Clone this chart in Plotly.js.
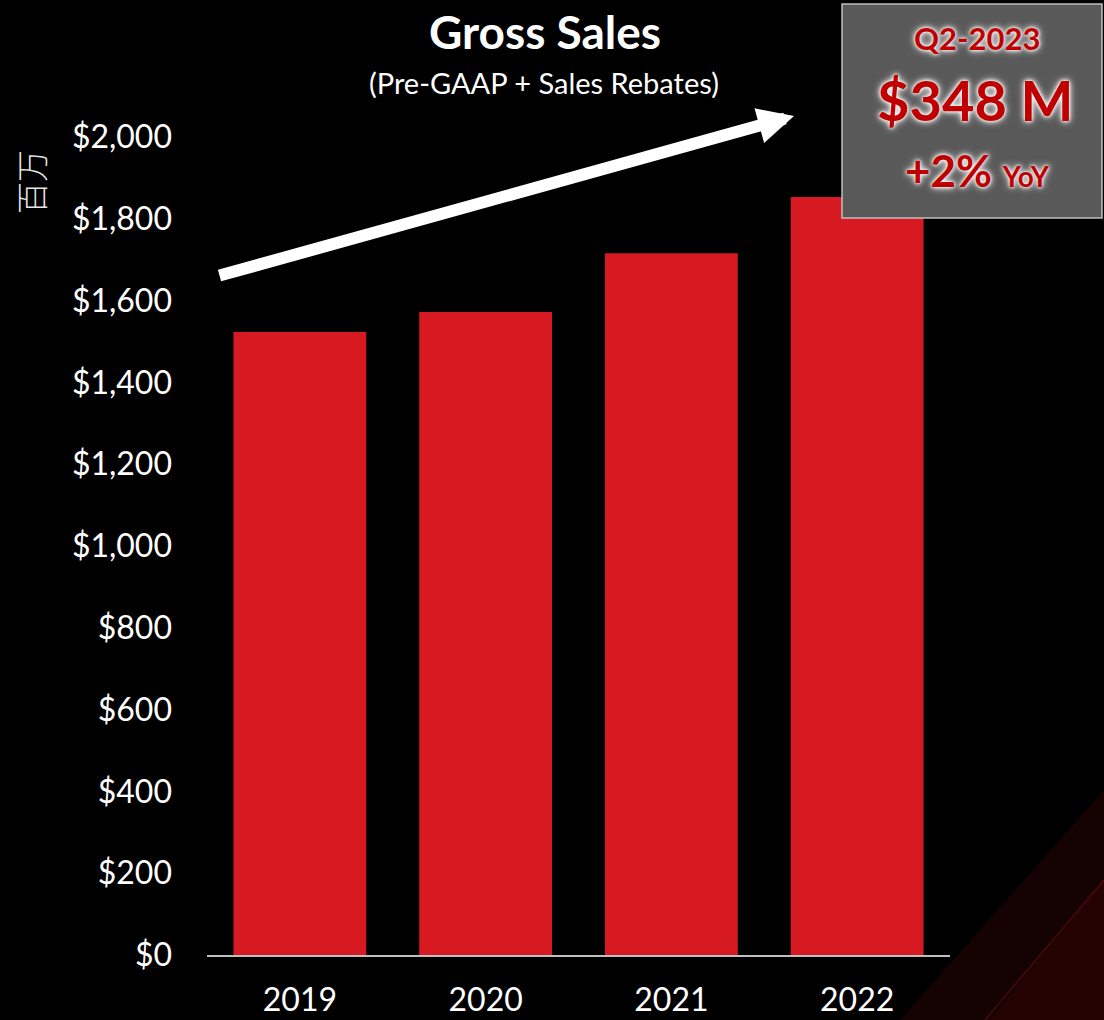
<!DOCTYPE html>
<html>
<head>
<meta charset="utf-8">
<script src="https://cdn.plot.ly/plotly-3.0.1.min.js"></script>
<style>html,body{margin:0;padding:0;background:#000;}#chart{width:1104px;height:1020px;}</style>
</head>
<body>
<div id="chart"></div>
<script>
const years = ['2019', '2020', '2021', '2022'];
const grossSales = [1523, 1572, 1716, 1853];
const yTickVals = [0, 200, 400, 600, 800, 1000, 1200, 1400, 1600, 1800, 2000];
const yTickText = ['$0', '$200', '$400', '$600', '$800', '$1,000', '$1,200', '$1,400', '$1,600', '$1,800', '$2,000'];

const L = 207, R = 950, T = 137, B = 955, W = 1104, H = 1020;
const px = x => (x - L) / (R - L);
const py = y => (B - y) / (B - T);

const red = '#c00000';
const glow = '0px 0px 3px #ffffff, 0px 0px 5px #ffffff, 0px 0px 8px #ffffff';

const trace = {
  type: 'bar', x: years, y: grossSales,
  marker: {color: '#d71a21'},
  hoverinfo: 'none'
};

const layout = {
  width: W, height: H,
  margin: {l: L, r: W - R, t: T, b: H - B, pad: 0},
  paper_bgcolor: '#000000', plot_bgcolor: 'rgba(0,0,0,0)',
  showlegend: false,
  bargap: 0.285,
  font: {family: 'Lato, "Open Sans", sans-serif', color: '#ffffff'},
  xaxis: {
    type: 'category', showgrid: false, zeroline: false,
    showline: true, linecolor: '#bfbfbf', linewidth: 2,
    ticks: '', ticklabelstandoff: 16,
    tickfont: {size: 32, color: '#ffffff', family: 'Lato, sans-serif'}
  },
  yaxis: {
    range: [0, 2000], showgrid: false, zeroline: false, showline: false,
    tickvals: yTickVals, ticktext: yTickText, ticks: '',
    ticklabelstandoff: 34,
    tickfont: {size: 32, color: '#ffffff', family: 'Lato, sans-serif'}
  },
  shapes: [
    {type: 'path', xref: 'paper', yref: 'paper', layer: 'below', line: {width: 0},
     fillcolor: 'rgba(60,5,5,0.35)',
     path: `M ${px(900)} ${py(1020)} L ${px(1104)} ${py(790)} L ${px(1104)} ${py(1020)} Z`},
    {type: 'path', xref: 'paper', yref: 'paper', layer: 'below', line: {width: 0},
     fillcolor: 'rgba(80,8,8,0.3)',
     path: `M ${px(990)} ${py(1020)} L ${px(1104)} ${py(880)} L ${px(1104)} ${py(1020)} Z`},
    {type: 'line', xref: 'paper', yref: 'paper', layer: 'below',
     x0: px(985), y0: py(1020), x1: px(1104), y1: py(880),
     line: {color: 'rgba(130,20,20,0.45)', width: 1.5}},
    {type: 'rect', xref: 'paper', yref: 'paper', layer: 'above',
     x0: px(842), x1: px(1102), y0: py(218), y1: py(4),
     fillcolor: '#595959', line: {color: '#bfbfbf', width: 1.5}}
  ],
  annotations: [
    {xref: 'paper', yref: 'paper', x: px(545), y: py(32), showarrow: false,
     text: '<b>Gross Sales</b>', font: {size: 46, color: '#ffffff', family: 'Lato, sans-serif'},
     xanchor: 'center', yanchor: 'middle'},
    {xref: 'paper', yref: 'paper', x: px(544), y: py(82), showarrow: false,
     text: '(Pre-GAAP + Sales Rebates)', font: {size: 29, color: '#ffffff', family: 'Lato, sans-serif'},
     xanchor: 'center', yanchor: 'middle'},
    {xref: 'paper', yref: 'paper', x: px(30), y: py(182), showarrow: false,
     text: '百万', textangle: -90,
     font: {size: 32, color: '#e6e6e6', family: '"Noto Sans CJK SC", sans-serif', weight: 300},
     xanchor: 'center', yanchor: 'middle'},
    {xref: 'paper', yref: 'paper', x: px(794), y: py(116), showarrow: true, text: '',
     ax: 218 - 794, ay: 276 - 116, arrowcolor: '#ffffff', arrowwidth: 12,
     arrowhead: 2, arrowsize: 0.6, standoff: 0},
    {xref: 'paper', yref: 'paper', x: px(977), y: py(38), showarrow: false,
     text: '<b>Q2-2023</b>', font: {size: 31, color: red, family: 'Lato, sans-serif', shadow: glow},
     xanchor: 'center', yanchor: 'middle'},
    {xref: 'paper', yref: 'paper', x: px(975), y: py(100), showarrow: false,
     text: '<b>$348 M</b>', font: {size: 56, color: red, family: 'Lato, sans-serif', shadow: glow},
     xanchor: 'center', yanchor: 'middle'},
    {xref: 'paper', yref: 'paper', x: px(977), y: py(170), showarrow: false,
     text: '<b>+2% <span style="font-size:28px">YoY</span></b>',
     font: {size: 44, color: red, family: 'Lato, sans-serif', shadow: glow},
     xanchor: 'center', yanchor: 'middle'}
  ]
};

Plotly.newPlot('chart', [trace], layout, {displayModeBar: false, staticPlot: true});
</script>
</body>
</html>
